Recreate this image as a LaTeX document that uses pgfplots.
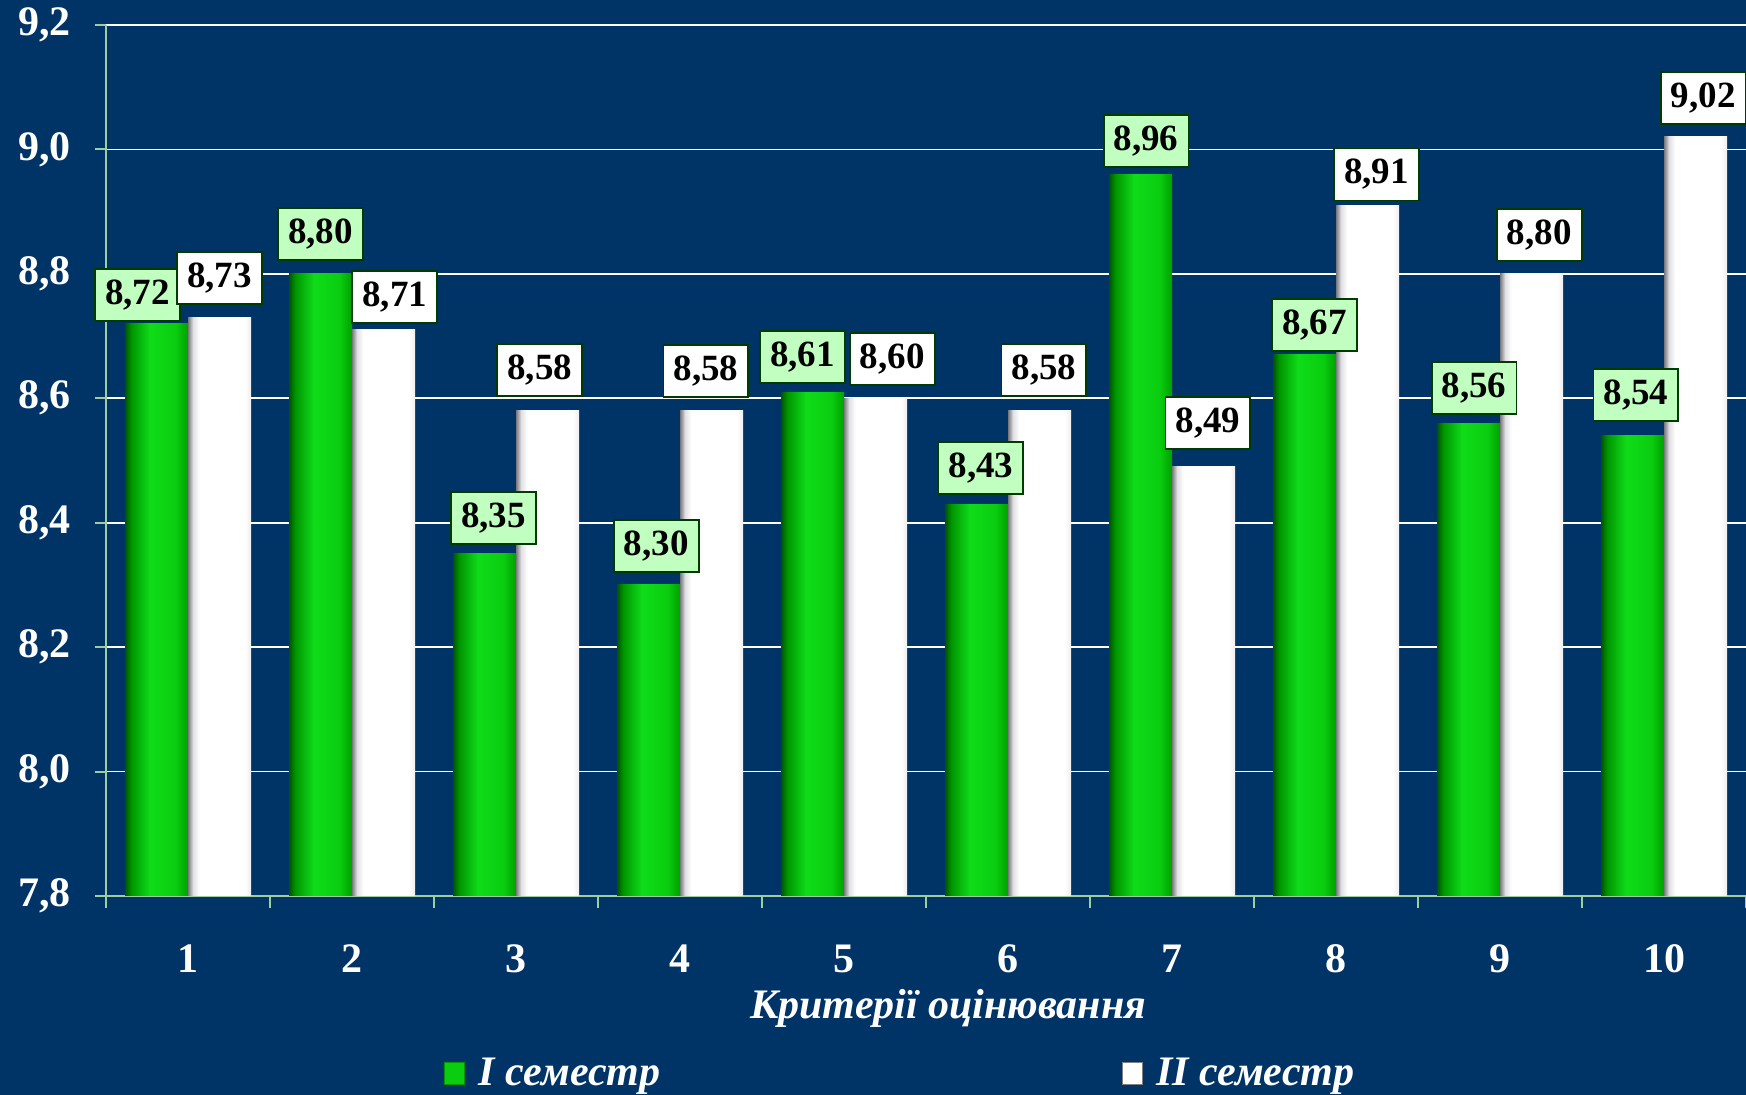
\documentclass[border=0pt]{standalone}
\usepackage{pgfplots}
\usepackage{pgfplotstable}
\pgfplotsset{compat=1.18}
\usepackage{fontspec}
\setmainfont{Liberation Serif}

\definecolor{bgnavy}{RGB}{0,51,102}
\definecolor{axisgreen}{RGB}{160,205,160}
\definecolor{lblgreen}{RGB}{192,255,192}
\definecolor{lblborder}{RGB}{0,60,0}
\definecolor{gA}{RGB}{0,85,0}
\definecolor{gB}{RGB}{0,150,0}
\definecolor{gC}{RGB}{15,220,25}
\definecolor{gD}{RGB}{10,205,15}
\definecolor{gE}{RGB}{0,160,0}
\definecolor{wA}{RGB}{120,120,125}
\definecolor{wB}{RGB}{225,225,228}
\definecolor{wC}{RGB}{255,255,255}
\definecolor{wD}{RGB}{238,238,240}

\pgfdeclarehorizontalshading{greenbar}{100bp}{color(0bp)=(gA); color(25bp)=(gA); color(30bp)=(gB); color(45bp)=(gC); color(65bp)=(gD); color(75bp)=(gE); color(100bp)=(gE)}
\pgfdeclarehorizontalshading{whitebar}{100bp}{color(0bp)=(wA); color(25bp)=(wA); color(29bp)=(wB); color(34bp)=(wC); color(70bp)=(wC); color(75bp)=(wD); color(100bp)=(wD)}

\pgfplotstableread{
x y dx dy
1 8.72 -9.5 -2
2 8.80 0 3.3
3 8.35 4.5 1.5
4 8.30 3.9 3
5 8.61 -5 1
6 8.43 2.2 1.5
7 8.96 2.8 0
8 8.67 5 -1.5
9 8.56 2.8 1
10 8.54 1.7 4
}\semI

\pgfplotstableread{
x y dx dy
1 8.73 0 3.2
2 8.71 5.6 0
3 8.58 -3.9 4
4 8.58 -2.8 3.3
5 8.60 8.4 3.3
6 8.58 2.2 4
7 8.49 2.2 5.5
8 8.91 4.5 -1
9 8.80 3.9 3
10 9.02 3.9 3
}\semII

\begin{document}
\begin{tikzpicture}
\fill[bgnavy] (0,0) rectangle (873pt,547.5pt);
\begin{axis}[
  at={(53pt,99.5pt)}, anchor=south west,
  scale only axis,
  width=820pt, height=435.5pt,
  xmin=0.5, xmax=10.5,
  ymin=7.8, ymax=9.2,
  ytick={7.8,8.0,...,9.2},
  xtick={1,...,10},
  minor xtick={0.5,1.5,...,10.5},
  axis lines*=left,
  axis line style={draw=axisgreen, line width=1pt},
  ymajorgrids,
  grid style={white, line width=0.9pt},
  tick align=outside,
  major tick length=5.5pt,
  minor tick length=6pt,
  xtick style={draw=none},
  minor x tick style={draw=axisgreen, line width=1pt},
  ytick style={draw=axisgreen, line width=1pt},
  /pgf/number format/.cd, use comma, fixed, fixed zerofill, precision=1, assume math mode=true,
  /pgfplots/.cd,
  yticklabel style={font=\fontsize{21}{24}\selectfont\bfseries, text=white, xshift=-8.5pt},
  xticklabel style={font=\fontsize{21}{24}\selectfont\bfseries, text=white, yshift=-15.5pt},
  xticklabels={1,2,3,4,5,6,7,8,9,10},
  xlabel={Критерії оцінювання},
  xlabel style={font=\fontsize{21}{24}\selectfont\bfseries\itshape, text=white, at={(axis description cs:0.5135,0)}, anchor=center, yshift=-56pt},
  ybar, bar width=31.5pt,
  nodes near coords={\pgfmathprintnumber[fixed,fixed zerofill,precision=2,use comma,assume math mode=true]{\pgfplotspointmeta}},
  visualization depends on={\thisrow{dx} \as \labdx},
  visualization depends on={\thisrow{dy} \as \labdy},
  every node near coord/.append style={font=\fontsize{18.5}{20}\selectfont\bfseries, text=black, draw=lblborder, line width=0.9pt, inner xsep=5pt, inner ysep=3pt, minimum height=26pt, anchor=south, yshift=3pt+\labdy pt, xshift=\labdx pt},
  legend columns=2,
  legend style={at={(axis description cs:0.2022,-0.204)}, anchor=west, draw=none, fill=none, text=white, font=\fontsize{21}{24}\selectfont\bfseries\itshape, /tikz/column 2/.style={column sep=228.5pt}},
  clip=false,
]
\addlegendimage{legend image code/.code={\fill[gD, draw=gB] (0pt,-5.5pt) rectangle (10pt,5.5pt); \path (15pt,0pt);}}
\addlegendentry{I семестр}
\addlegendimage{legend image code/.code={\fill[white, draw=gray] (0pt,-5.5pt) rectangle (10pt,5.5pt); \path (15pt,0pt);}}
\addlegendentry{II семестр}
\pgfplotsinvokeforeach{1,...,10}{
\addplot[ybar, bar width=31.5pt, bar shift=-15.75pt, draw=none, shading=greenbar, forget plot,
  restrict x to domain=#1:#1,
  every node near coord/.append style={fill=lblgreen}]
  table[x=x, y=y] {\semI};
\addplot[ybar, bar width=31.5pt, bar shift=15.75pt, draw=none, shading=whitebar, forget plot,
  restrict x to domain=#1:#1,
  every node near coord/.append style={fill=white}]
  table[x=x, y=y] {\semII};
}
\end{axis}
\pgfresetboundingbox
\path (0,0) rectangle (873pt,547.5pt);
\end{tikzpicture}
\end{document}
